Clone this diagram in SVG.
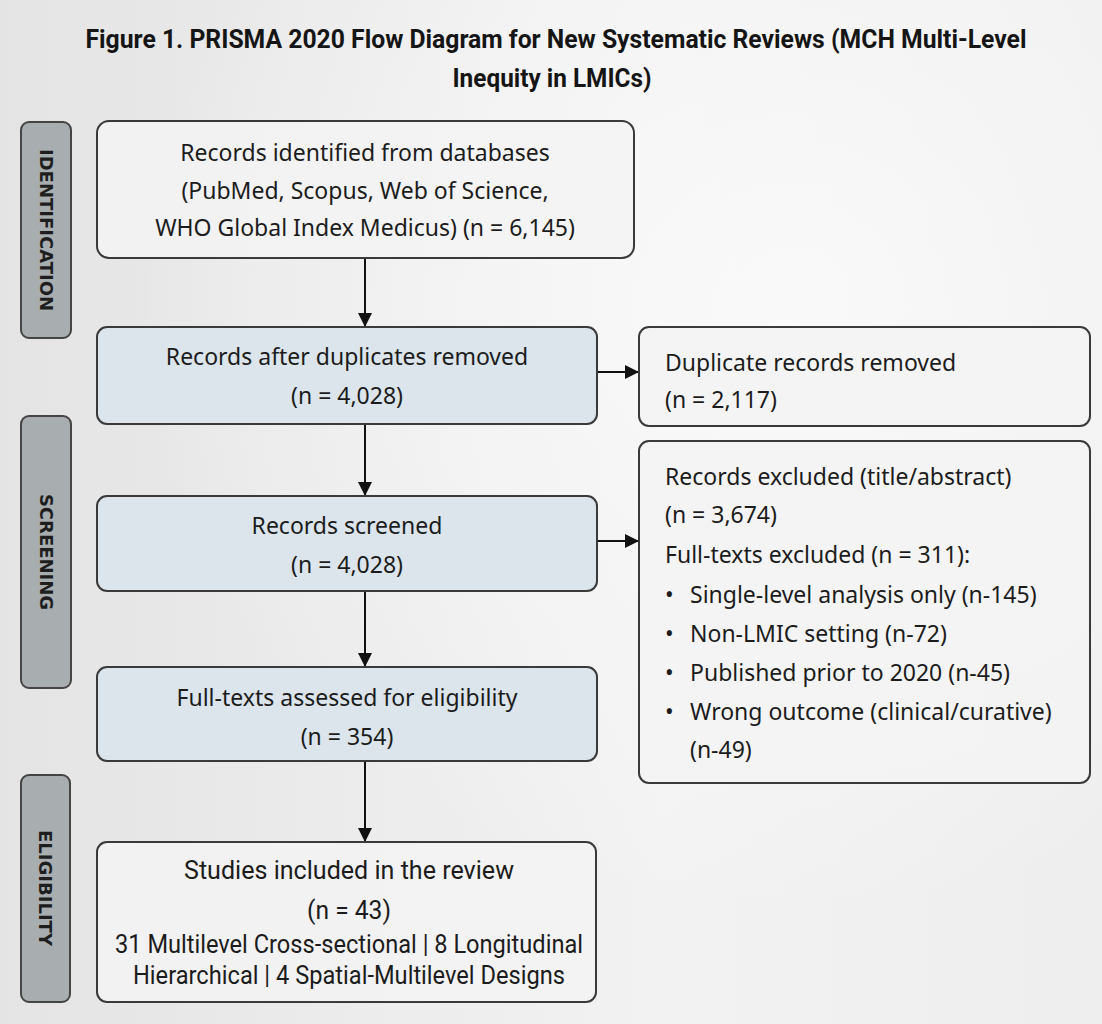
<svg xmlns="http://www.w3.org/2000/svg" width="1102" height="1024" viewBox="0 0 1102 1024">
  <defs>
    <linearGradient id="bg" x1="0" y1="0" x2="1" y2="0">
      <stop offset="0" stop-color="#e4e4e4"/>
      <stop offset="0.6" stop-color="#f2f2f2"/>
      <stop offset="1" stop-color="#eeeeee"/>
    </linearGradient>
    <radialGradient id="glow" cx="0.72" cy="0.3" r="0.6">
      <stop offset="0" stop-color="#fafafa" stop-opacity="0.9"/>
      <stop offset="1" stop-color="#fafafa" stop-opacity="0"/>
    </radialGradient>
    <marker id="arrow" markerUnits="userSpaceOnUse" markerWidth="14" markerHeight="14" refX="14" refY="7" orient="auto">
      <path d="M0,0 L14,7 L0,14 Z" fill="#111"/>
    </marker>
    <style>
      .box { fill: #f3f3f3; fill-opacity: 0.85; stroke: #3a3a3a; stroke-width: 2; }
      .blue { fill: #dbe5eb; stroke: #3a3a3a; stroke-width: 2; }
      .side { fill: #a8adb0; stroke: #444; stroke-width: 2; }
      .sidetxt { font-family: "DejaVu Sans", sans-serif; font-weight: bold; font-size: 18px; fill: #1e1e1e; }
      .t { font-family: "Noto Sans", "Open Sans", sans-serif; font-size: 23px; fill: #1c1c1c; }
      .c { text-anchor: middle; }
      .cond { font-family: "Roboto", "Noto Sans", sans-serif; font-size: 25px; fill: #1c1c1c; text-anchor: middle; }
      .title { font-family: "Roboto", "Liberation Sans", sans-serif; font-weight: bold; font-size: 26px; fill: #151515; text-anchor: middle; }
      .conn { stroke: #111; stroke-width: 2; fill: none; marker-end: url(#arrow); }
    </style>
  </defs>

  <rect x="0" y="0" width="1102" height="1024" fill="url(#bg)"/>
  <rect x="0" y="0" width="1102" height="1024" fill="url(#glow)"/>

  <g id="title">
    <text class="title" x="556" y="48" textLength="941" lengthAdjust="spacingAndGlyphs">Figure 1. PRISMA 2020 Flow Diagram for New Systematic Reviews (MCH Multi-Level</text>
    <text class="title" x="552" y="87" textLength="199" lengthAdjust="spacingAndGlyphs">Inequity in LMICs)</text>
  </g>

  <g id="stage-identification">
    <rect class="side" x="21" y="122" width="50" height="216" rx="8"/>
    <text class="sidetxt c" transform="translate(46,230) rotate(90)" x="0" y="0" dy="0.36em">IDENTIFICATION</text>
  </g>
  <g id="stage-screening">
    <rect class="side" x="21" y="416" width="50" height="272" rx="8"/>
    <text class="sidetxt c" transform="translate(46,552) rotate(90)" x="0" y="0" dy="0.36em">SCREENING</text>
  </g>
  <g id="stage-eligibility">
    <rect class="side" x="21" y="775" width="49" height="227" rx="8"/>
    <text class="sidetxt c" transform="translate(45.5,888) rotate(90)" x="0" y="0" dy="0.36em">ELIGIBILITY</text>
  </g>

  <g id="connectors">
    <line class="conn" x1="365" y1="258" x2="365" y2="327"/>
    <line class="conn" x1="365" y1="424" x2="365" y2="496"/>
    <line class="conn" x1="365" y1="591" x2="365" y2="667"/>
    <line class="conn" x1="365" y1="761" x2="365" y2="842"/>
    <line class="conn" x1="597" y1="372" x2="639" y2="372"/>
    <line class="conn" x1="597" y1="541" x2="639" y2="541"/>
  </g>

  <g id="node-identified">
    <rect class="box" x="97" y="121" width="537" height="137" rx="12"/>
    <text class="t c" x="365" y="161">Records identified from databases</text>
    <text class="t c" x="365" y="199">(PubMed, Scopus, Web of Science,</text>
    <text class="t c" x="365" y="236">WHO Global Index Medicus) (n = 6,145)</text>
  </g>

  <g id="node-after-duplicates">
    <rect class="blue" x="97" y="327" width="500" height="97" rx="10"/>
    <text class="t c" x="347" y="365">Records after duplicates removed</text>
    <text class="t c" x="347" y="404">(n = 4,028)</text>
  </g>

  <g id="node-duplicates-removed">
    <rect class="box" x="639" y="327" width="451" height="99" rx="10"/>
    <text class="t" x="665" y="371">Duplicate records removed</text>
    <text class="t" x="665" y="408">(n = 2,117)</text>
  </g>

  <g id="node-screened">
    <rect class="blue" x="97" y="496" width="500" height="95" rx="10"/>
    <text class="t c" x="347" y="534">Records screened</text>
    <text class="t c" x="347" y="573">(n = 4,028)</text>
  </g>

  <g id="node-excluded">
    <rect class="box" x="639" y="441" width="451" height="342" rx="10"/>
    <text class="t" x="665" y="485">Records excluded (title/abstract)</text>
    <text class="t" x="665" y="523">(n = 3,674)</text>
    <text class="t" x="665" y="563">Full-texts excluded (n = 311):</text>
    <text class="t" x="665" y="603">•</text>
    <text class="t" x="690" y="603">Single-level analysis only (n-145)</text>
    <text class="t" x="665" y="642">•</text>
    <text class="t" x="690" y="642">Non-LMIC setting (n-72)</text>
    <text class="t" x="665" y="681">•</text>
    <text class="t" x="690" y="681">Published prior to 2020 (n-45)</text>
    <text class="t" x="665" y="720">•</text>
    <text class="t" x="690" y="720">Wrong outcome (clinical/curative)</text>
    <text class="t" x="690" y="758">(n-49)</text>
  </g>

  <g id="node-fulltexts">
    <rect class="blue" x="97" y="667" width="500" height="94" rx="10"/>
    <text class="t c" x="347" y="706">Full-texts assessed for eligibility</text>
    <text class="t c" x="347" y="745">(n = 354)</text>
  </g>

  <g id="node-included">
    <rect class="box" x="97" y="842" width="499" height="160" rx="10"/>
    <text class="cond" x="349" y="879" textLength="330" lengthAdjust="spacingAndGlyphs">Studies included in the review</text>
    <text class="cond" x="349" y="919" textLength="84" lengthAdjust="spacingAndGlyphs">(n = 43)</text>
    <text class="cond" x="349" y="953" textLength="468" lengthAdjust="spacingAndGlyphs">31 Multilevel Cross-sectional | 8 Longitudinal</text>
    <text class="cond" x="349" y="984" textLength="432" lengthAdjust="spacingAndGlyphs">Hierarchical | 4 Spatial-Multilevel Designs</text>
  </g>
</svg>
